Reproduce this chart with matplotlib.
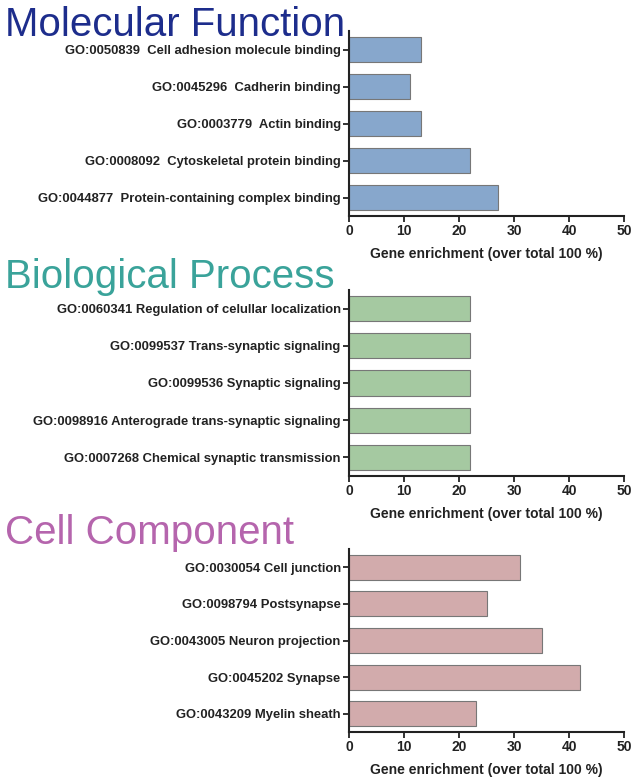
import matplotlib
matplotlib.use("Agg")
import matplotlib.pyplot as plt

# data
mf_labels = ["GO:0050839  Cell adhesion molecule binding",
             "GO:0045296  Cadherin binding",
             "GO:0003779  Actin binding",
             "GO:0008092  Cytoskeletal protein binding",
             "GO:0044877  Protein-containing complex binding"]
mf_values = [13, 11, 13, 22, 27]

bp_labels = ["GO:0060341 Regulation of celullar localization",
             "GO:0099537 Trans-synaptic signaling",
             "GO:0099536 Synaptic signaling",
             "GO:0098916 Anterograde trans-synaptic signaling",
             "GO:0007268 Chemical synaptic transmission"]
bp_values = [22, 22, 22, 22, 22]

cc_labels = ["GO:0030054 Cell junction",
             "GO:0098794 Postsynapse",
             "GO:0043005 Neuron projection",
             "GO:0045202 Synapse",
             "GO:0043209 Myelin sheath"]
cc_values = [31, 25, 35, 42, 23]

titles = ["Molecular Function", "Biological Process", "Cell Component"]
x_ticks = [0, 10, 20, 30, 40, 50]
x_label = "Gene enrichment (over total 100 %)"

font = ["Liberation Sans", "DejaVu Sans"]
txt = "#222222"

W, H = 638, 783
fig = plt.figure(figsize=(W / 100, H / 100), dpi=100)

panels = [
    (mf_labels, mf_values, "#87a7cc", "#1d2d8c", 31, 216, 36),
    (bp_labels, bp_values, "#a5c9a1", "#3aa39a", 290, 476, 288),
    (cc_labels, cc_values, "#d2abac", "#b565ad", 549, 732, 544),
]

for (labels, values, color, tcolor, top, bottom, tbase), title in zip(panels, titles):
    ax = fig.add_axes([349 / W, 1 - bottom / H, (624 - 349) / W, (bottom - top) / H])
    pos = list(range(len(labels)))
    ax.barh(pos, values, height=0.68, color=color, edgecolor="#777777", linewidth=0.8)
    ax.set_ylim(len(labels) - 0.5, -0.5)
    ax.set_xlim(0, 50)
    ax.set_xticks(x_ticks)
    ax.set_yticks(pos)
    ax.set_yticklabels(labels, family=font, fontweight="bold", fontsize=9.4, color=txt)
    ax.set_xticklabels([str(t) for t in x_ticks], family=font, fontweight="bold",
                       fontsize=10, color=txt)
    ax.set_xlabel(x_label, family=font, fontweight="bold", fontsize=10,
                  color=txt, labelpad=6)
    for s in ["top", "right"]:
        ax.spines[s].set_visible(False)
    for s in ["left", "bottom"]:
        ax.spines[s].set_linewidth(1.5)
        ax.spines[s].set_color(txt)
    ax.tick_params(direction="out", length=4, width=1.3, color=txt, pad=2)
    fig.text(5 / W, 1 - tbase / H, title, family=font, fontsize=29,
             color=tcolor, ha="left", va="baseline")

fig.savefig("out.png", dpi=100)
